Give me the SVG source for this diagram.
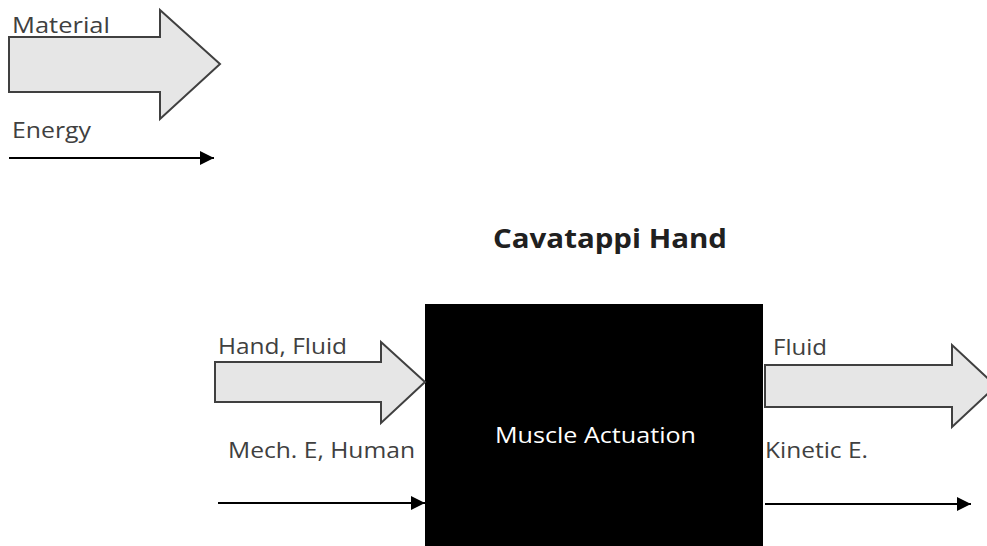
<svg xmlns="http://www.w3.org/2000/svg" width="987" height="546" viewBox="0 0 987 546">
<defs>
<style>
.lbl{font-family:"Open Sans","Noto Sans",sans-serif;font-size:21px;fill:#404040}
.big{fill:#e6e6e6;stroke:#404040;stroke-width:2}
.en{stroke:#000;stroke-width:2;fill:none}
</style>
<marker id="ah" viewBox="0 0 10 10" refX="10" refY="5" markerWidth="14" markerHeight="14" markerUnits="userSpaceOnUse" orient="auto">
<path d="M0,0 L10,5 L0,10 z" fill="#000"/>
</marker>
</defs>
<rect width="987" height="546" fill="#fff"/>
<g id="legend-material">
<path class="big" d="M9,37 H160 V10 L220,64 L160,119 V92 H9 Z"/>
<text class="lbl" x="12" y="33" textLength="98" lengthAdjust="spacingAndGlyphs">Material</text>
</g>
<g id="legend-energy">
<text class="lbl" x="12" y="138" textLength="79" lengthAdjust="spacingAndGlyphs">Energy</text>
</g>
<text id="title" x="493" y="248" textLength="234" lengthAdjust="spacingAndGlyphs" font-family="'Open Sans','Noto Sans',sans-serif" font-weight="bold" font-size="27" fill="#202020">Cavatappi Hand</text>
<g id="muscle-actuation">
<rect x="425" y="304" width="338" height="250" fill="#000"/>
<text x="495" y="443" textLength="201" lengthAdjust="spacingAndGlyphs" font-family="'Open Sans','Noto Sans',sans-serif" font-size="22" fill="#fff">Muscle Actuation</text>
</g>
<g id="in-material">
<path class="big" d="M215,362 H381 V342 L425,382 L381,423 V402 H215 Z"/>
<text class="lbl" x="218" y="354" textLength="129" lengthAdjust="spacingAndGlyphs">Hand, Fluid</text>
</g>
<g id="in-energy">
<text class="lbl" x="228" y="458" textLength="187" lengthAdjust="spacingAndGlyphs">Mech. E, Human</text>
</g>
<g id="out-material">
<path class="big" d="M765,365 H952 V345 L996,386 L952,427 V407 H765 Z"/>
<text class="lbl" x="773" y="355" textLength="54" lengthAdjust="spacingAndGlyphs">Fluid</text>
</g>
<g id="out-energy">
<text class="lbl" x="765" y="458" textLength="103" lengthAdjust="spacingAndGlyphs">Kinetic E.</text>
</g>
<g id="connectors">
<line class="en" x1="9" y1="158" x2="214" y2="158" marker-end="url(#ah)"/>
<line class="en" x1="218" y1="503" x2="425" y2="503" marker-end="url(#ah)"/>
<line class="en" x1="765" y1="504" x2="971" y2="504" marker-end="url(#ah)"/>
</g>
</svg>
